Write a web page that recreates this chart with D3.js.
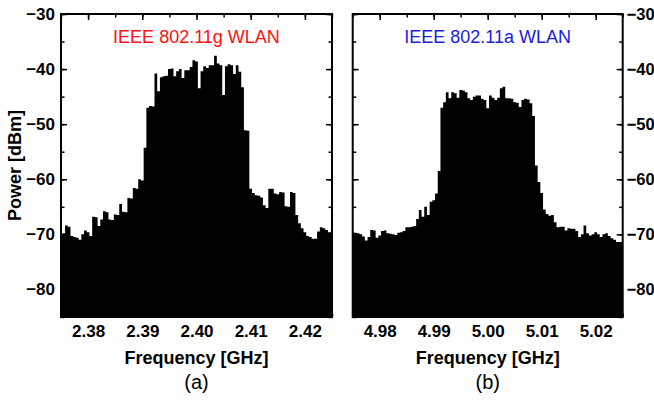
<!DOCTYPE html>
<html>
<head>
<meta charset="utf-8">
<script src="https://cdn.jsdelivr.net/npm/d3@7"></script>
<style>
  body { margin: 0; background: #fff; }
  svg { display: block; font-family: "Liberation Sans", Arial, sans-serif; }
  .tick text { font-weight: bold; font-size: 17px; fill: #000; }
  .tick line { stroke: #000; stroke-width: 1.5; }
  .right-axis .tick text { font-size: 16.5px; }
</style>
</head>
<body>
<div id="chart"></div>
<script>
// spectrum samples, every 0.5 MHz across each 50 MHz span
var startA = 2.375, startB = 4.975, stepGHz = 0.0005;

var powerA = [
  -70.0,-69.8,-68.4,-68.6,-70.3,-70.5,-70.6,-71.0,-70.0,-69.3,
  -69.6,-70.3,-66.8,-66.9,-68.5,-67.3,-65.8,-66.0,-67.3,-67.4,
  -66.4,-66.5,-64.5,-65.9,-66.0,-63.4,-63.5,-61.6,-61.7,-60.0,
  -60.2,-54.3,-47.0,-46.7,-46.8,-40.8,-44.0,-41.5,-41.3,-41.2,
  -40.0,-39.9,-41.3,-40.4,-40.0,-41.6,-40.2,-40.2,-39.6,-38.4,
  -38.6,-43.5,-40.4,-39.5,-39.8,-39.3,-39.3,-37.6,-39.0,-39.3,
  -44.7,-39.5,-39.1,-39.3,-40.9,-39.3,-40.5,-43.3,-51.1,-51.2,
  -61.7,-62.5,-62.9,-63.0,-63.3,-64.7,-65.2,-61.7,-61.7,-62.6,
  -62.7,-62.3,-62.4,-64.9,-65.0,-62.3,-62.5,-66.5,-68.0,-68.9,
  -69.6,-70.3,-70.5,-70.8,-70.8,-69.5,-68.7,-68.9,-69.2,-69.6,
  -69.5
];

var powerB = [
  -69.6,-69.7,-69.8,-70.0,-70.4,-71.1,-70.5,-69.2,-69.3,-70.6,
  -70.2,-69.4,-69.3,-69.8,-69.9,-70.0,-70.1,-69.7,-69.6,-69.4,
  -68.7,-68.7,-68.6,-68.5,-67.2,-65.6,-66.8,-65.0,-66.5,-64.1,
  -63.8,-62.6,-58.5,-47.0,-46.0,-44.2,-45.3,-44.2,-44.4,-45.2,
  -43.8,-43.9,-44.2,-45.3,-45.6,-45.0,-44.8,-44.8,-45.4,-45.6,
  -47.1,-44.8,-45.2,-45.6,-45.2,-43.5,-43.2,-45.3,-45.3,-45.4,
  -46.0,-46.1,-46.9,-45.6,-45.4,-45.5,-46.2,-48.5,-57.5,-60.5,
  -62.5,-65.5,-66.3,-66.6,-66.5,-67.8,-68.7,-68.6,-68.6,-69.3,
  -68.9,-69.0,-69.0,-69.4,-70.5,-70.0,-68.4,-69.8,-70.2,-70.0,
  -69.6,-70.0,-70.5,-70.0,-69.8,-70.3,-70.7,-71.0,-71.4,-71.4,
  -71.4
];

var xTicksA = [2.38, 2.39, 2.40, 2.41, 2.42];
var xTicksB = [4.98, 4.99, 5.00, 5.01, 5.02];
var yTicks = [-80, -70, -60, -50, -40, -30];

var svgWidth = 654, svgHeight = 408;
// note: "top" is taken by window.top, hence plotTop
var plotTop = 14, plotBottom = 317;

var svg = d3.select("#chart").append("svg")
    .attr("width", svgWidth)
    .attr("height", svgHeight);

var yScale = d3.scaleLinear().domain([-85, -30]).range([plotBottom, plotTop]);

var panels = [
  { left: 61, right: 332, start: startA, power: powerA, ticks: xTicksA,
    title: "IEEE 802.11g WLAN", color: "#ff1010", tag: "(a)", labels: "left" },
  { left: 352.7, right: 622.7, start: startB, power: powerB, ticks: xTicksB,
    title: "IEEE 802.11a WLAN", color: "#1c1cdc", tag: "(b)", labels: "right" }
];

panels.forEach(function(p) {
  var xScale = d3.scaleLinear()
      .domain([p.start, p.start + stepGHz * (p.power.length - 1)])
      .range([p.left, p.right]);

  var g = svg.append("g");

  // filled spectrum
  var area = d3.area()
      .x(function(d, i) { return xScale(p.start + i * stepGHz); })
      .y0(plotBottom)
      .y1(function(d) { return yScale(d); })
      .curve(d3.curveStep);

  g.append("path")
      .datum(p.power)
      .attr("d", area)
      .attr("fill", "#000");

  // minor ticks (no labels)
  var xMinor = d3.range(p.start, p.start + 0.0501, 0.005);
  var yMinor = d3.range(-85, -29, 5);

  g.append("g").attr("transform", "translate(0," + plotBottom + ")")
      .call(d3.axisBottom(xScale).tickValues(xMinor).tickSize(-3.5).tickFormat(""));
  g.append("g").attr("transform", "translate(0," + plotTop + ")")
      .call(d3.axisTop(xScale).tickValues(xMinor).tickSize(-3.5).tickFormat(""));
  g.append("g").attr("transform", "translate(" + p.left + ",0)")
      .call(d3.axisLeft(yScale).tickValues(yMinor).tickSize(-3.5).tickFormat(""));
  g.append("g").attr("transform", "translate(" + p.right + ",0)")
      .call(d3.axisRight(yScale).tickValues(yMinor).tickSize(-3.5).tickFormat(""));

  // major ticks
  g.append("g").attr("transform", "translate(0," + plotBottom + ")")
      .call(d3.axisBottom(xScale).tickValues(p.ticks).tickSize(-6).tickPadding(8)
        .tickFormat(d3.format(".2f")));
  g.append("g").attr("transform", "translate(0," + plotTop + ")")
      .call(d3.axisTop(xScale).tickValues(p.ticks).tickSize(-6).tickFormat(""));
  g.append("g").attr("transform", "translate(" + p.left + ",0)")
      .call(d3.axisLeft(yScale).tickValues(yTicks).tickSize(-6).tickPadding(6)
        .tickFormat(p.labels == "left" ? d3.format("d") : ""));
  g.append("g").attr("class", "right-axis")
      .attr("transform", "translate(" + p.right + ",0)")
      .call(d3.axisRight(yScale).tickValues(yTicks).tickSize(-6).tickPadding(4)
        .tickFormat(p.labels == "right" ? d3.format("d") : ""));

  g.selectAll(".domain").remove();

  // frame
  g.append("rect")
      .attr("x", p.left).attr("y", plotTop)
      .attr("width", p.right - p.left).attr("height", plotBottom - plotTop)
      .attr("fill", "none").attr("stroke", "#000").attr("stroke-width", 2);

  var cx = (p.left + p.right) / 2;

  g.append("text")
      .attr("x", cx).attr("y", 43)
      .attr("text-anchor", "middle")
      .style("font-size", "18px")
      .attr("fill", p.color)
      .text(p.title);

  g.append("text")
      .attr("x", cx).attr("y", 364)
      .attr("text-anchor", "middle")
      .style("font-size", "18px").style("font-weight", "bold")
      .text("Frequency [GHz]");

  g.append("text")
      .attr("x", cx).attr("y", 389)
      .attr("text-anchor", "middle")
      .style("font-size", "20px")
      .text(p.tag);
});

svg.append("text")
    .attr("transform", "rotate(-90)")
    .attr("x", -(plotTop + plotBottom) / 2)
    .attr("y", 21)
    .attr("text-anchor", "middle")
    .style("font-size", "18px").style("font-weight", "bold")
    .text("Power [dBm]");
</script>
</body>
</html>
